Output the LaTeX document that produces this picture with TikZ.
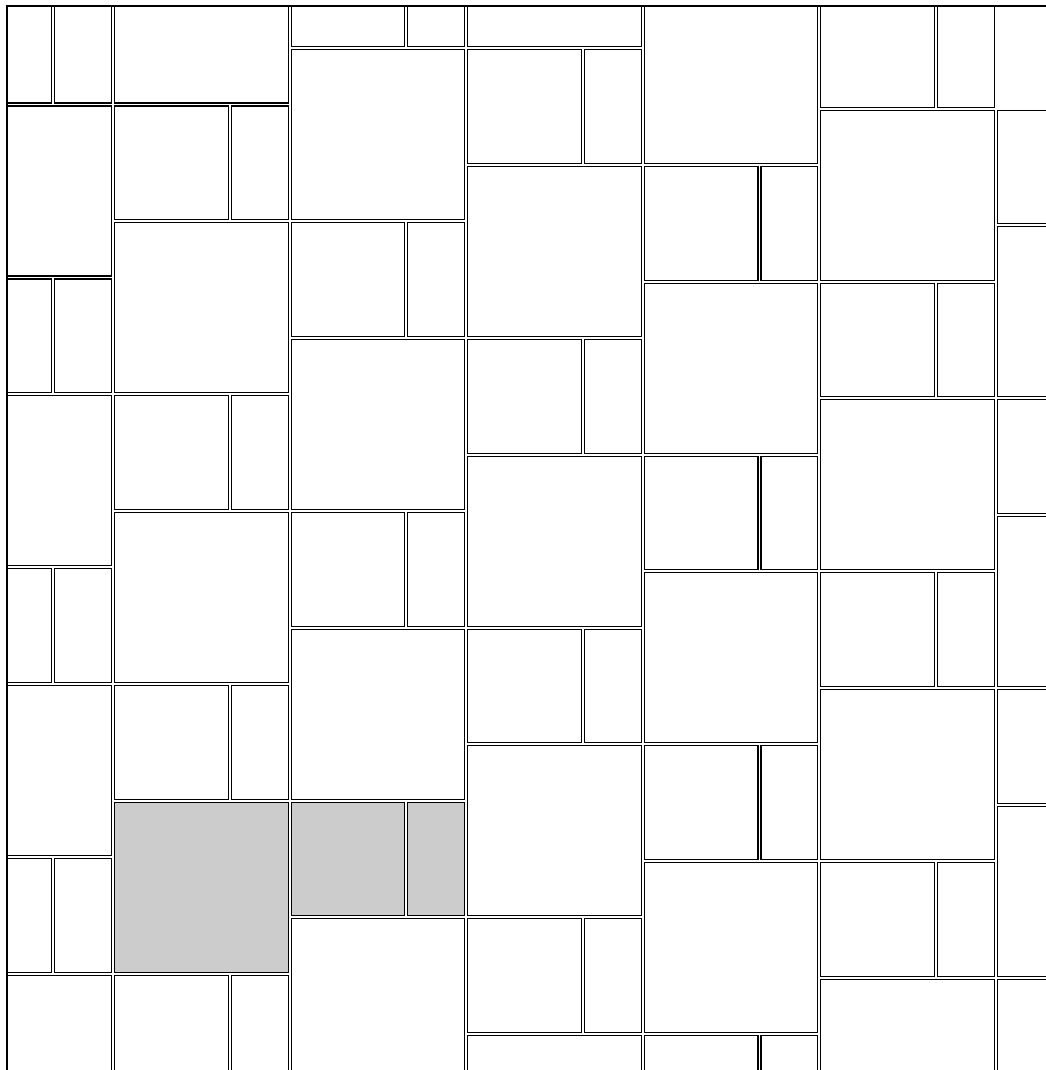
\documentclass[tikz,border=0pt]{standalone}
\definecolor{tilegrey}{RGB}{204,204,204}
\begin{document}
\begin{tikzpicture}[x=1pt,y=-1pt,
  tile/.style={draw=black,line width=1.1pt},
  greytile/.style={tile,fill=tilegrey}]
\useasboundingbox (0,0) rectangle (1045,1070);
\fill[white] (0,0) rectangle (1045,1070);
\begin{scope}
\clip (7,6) rectangle (1100,1100);
\foreach \k in {0,...,6}{
  \pgfmathsetmacro\xa{113+(\k-1)*176.6}
  \foreach \j in {0,...,6}{
    \pgfmathsetmacro\ya{104.5+(\k-1)*116.7-579.4+\j*289.7}
    % split block: wide square piece and narrow piece
    \draw[tile] (\xa+1.5,\ya+1.5) rectangle (\xa+116.7-1.5,\ya+116.7-1.5);
    \draw[tile] (\xa+116.7+1.5,\ya+1.5) rectangle (\xa+176.6-1.5,\ya+116.7-1.5);
    % big block
    \draw[tile] (\xa+1.5,\ya+116.7+1.5) rectangle (\xa+176.6-1.5,\ya+289.7-1.5);
  }
}
% grey tiles
\draw[greytile] (114.5,802.1) rectangle (288.1,972.1);
\draw[greytile] (291.1,802.1) rectangle (404.8,915.8);
\draw[greytile] (407.8,802.1) rectangle (464.7,915.8);
\end{scope}
\draw[tile] (7,1080) -- (7,6) -- (1055,6);
\end{tikzpicture}
\end{document}
